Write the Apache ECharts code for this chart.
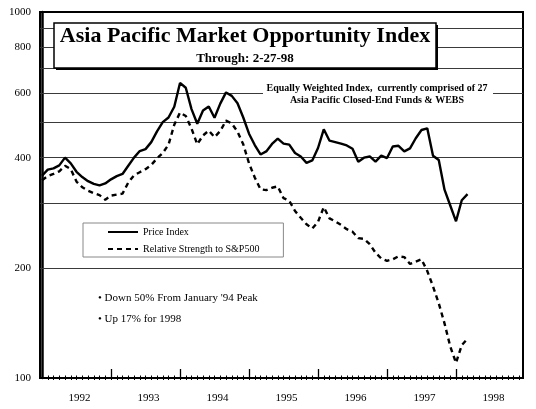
<!DOCTYPE html>
<html>
<head>
<meta charset="utf-8">
<script src="https://cdn.jsdelivr.net/npm/echarts@6/dist/echarts.min.js"></script>
<style>
html,body{margin:0;padding:0;background:#fff;}
#chart{width:536px;height:409px;}
</style>
</head>
<body>
<div id="chart"></div>
<script>
// Month index: 0 = end of Dec 1991, 1 = end of Jan 1992, ... 74 = end of Feb 1998
const monthIndex = [0,1,2,3,4,5,6,7,8,9,10,11,12,13,14,15,16,17,18,19,20,21,22,23,24,25,26,27,28,29,30,31,32,33,34,35,36,37,38,39,40,41,42,43,44,45,46,47,48,49,50,51,52,53,54,55,56,57,58,59,60,61,62,63,64,65,66,67,68,69,70,71,72,73,74];
const priceIndex = [357,371,374,381,400,386,366,354,345,339,336,340,349,356,361,380,400,417,422,441,472,500,515,551,640,621,543,495,538,552,514,562,603,590,563,515,465,433,408,416,436,451,437,434,412,403,387,393,425,478,445,441,437,432,423,390,400,403,390,405,399,429,431,416,424,452,476,481,405,394,327,296,268,306,318];
const relStrength = [347,356,361,367,380,372,344,332,325,320,316,307,315,317,319,342,358,365,372,382,398,412,434,492,531,520,480,435,460,474,455,473,505,496,471,435,386,353,328,326,331,334,310,305,286,274,263,256,267,293,273,268,262,255,251,241,240,232,220,212,209,211,215,214,205,208,211,196,178,160,141,122,110,123,128];

const yearLabels = ['1992','1993','1994','1995','1996','1997','1998'];
const yearLabelPos = [6.5,18.5,30.5,42.5,54.5,66.5,78.5];
const yearTicks = [12,24,36,48,60,72];
const monthTicks = [1,2,3,4,5,6,7,8,9,10,11,12,13,14,15,16,17,18,19,20,21,22,23,24,25,26,27,28,29,30,31,32,33,34,35,36,37,38,39,40,41,42,43,44,45,46,47,48,49,50,51,52,53,54,55,56,57,58,59,60,61,62,63,64,65,66,67,68,69,70,71,72,73,74,75,76,77,78,79,80,81,82,83];
const yGridValues = [200,300,400,500,600,700,800,900];
const yTickLabels = [100,200,400,600,800,1000];

const seriesNames = ['Price Index','Relative Strength to S&P500'];
const titleText = 'Asia Pacific Market Opportunity Index';
const throughText = 'Through: 2-27-98';
const noteLines = ['Equally Weighted Index,  currently comprised of 27','Asia Pacific Closed-End Funds & WEBS'];
const bullets = ["Down 50% From January '94 Peak", 'Up 17% for 1998'];

const SERIF = 'Liberation Serif, Times New Roman, serif';

const markData = [];
const allY = Array.from(new Set(yGridValues.concat(yTickLabels))).sort((a,b)=>a-b);
allY.forEach(v => {
  const isGrid = yGridValues.indexOf(v) >= 0;
  const isLabel = yTickLabels.indexOf(v) >= 0;
  markData.push({
    yAxis: v,
    lineStyle: isGrid ? {color:'#3a3a3a', width:1, type:'solid'} : {color:'rgba(0,0,0,0)', width:0},
    label: {show:isLabel, formatter:String(v)}
  });
});

const chart = echarts.init(document.getElementById('chart'), null, {renderer:'canvas'});
const xMin = -0.35, xMax = 83.65;
const option = {
  animation:false,
  backgroundColor:'#fff',
  grid:{left:40,right:13,top:12,bottom:31,show:true,borderColor:'#000',borderWidth:2,backgroundColor:'transparent'},
  legend:{
    data:seriesNames, orient:'vertical', left:83, top:223,
    padding:[4,24,3,24], itemGap:7, itemWidth:30, itemHeight:10,
    borderColor:'#888', borderWidth:1, backgroundColor:'#fff',
    itemStyle:{opacity:0, color:'rgba(0,0,0,0)', borderWidth:0},
    textStyle:{fontFamily:SERIF,fontSize:10,color:'#000'},
    selectedMode:false
  },
  xAxis:[
    {type:'value',min:xMin,max:xMax,position:'bottom',
     axisLine:{show:true,lineStyle:{color:'#000',width:2}},
     axisTick:{show:true,inside:true,length:9,customValues:yearTicks,lineStyle:{color:'#000',width:1.3}},
     axisLabel:{show:true,customValues:yearLabelPos,margin:15,fontFamily:SERIF,fontSize:11,color:'#000',
       formatter:function(v){return yearLabels[Math.round((v-6.5)/12)];}},
     splitLine:{show:false}},
    {type:'value',min:xMin,max:xMax,position:'bottom',
     axisLine:{show:false},
     axisTick:{show:true,inside:true,length:2.5,customValues:monthTicks,lineStyle:{color:'#000',width:1}},
     axisLabel:{show:false},splitLine:{show:false}},
    {type:'value',min:xMin,max:xMax,position:'bottom',
     axisLine:{show:false},
     axisTick:{show:true,inside:false,length:2,customValues:monthTicks,lineStyle:{color:'#000',width:1}},
     axisLabel:{show:false},splitLine:{show:false}}
  ],
  yAxis:{type:'log',logBase:10,min:100,max:1000,
    axisLine:{show:true,lineStyle:{color:'#000',width:2.5}},
    axisTick:{show:false},axisLabel:{show:false},splitLine:{show:false},minorSplitLine:{show:false}},
  series:[
    {name:seriesNames[0],type:'line',xAxisIndex:0,symbol:'none',
     data:monthIndex.map((m,i)=>[m,priceIndex[i]]),
     lineStyle:{color:'#000',width:2.4,type:'solid'},itemStyle:{color:'#000'},z:5,
     markLine:{silent:true,symbol:['none','none'],animation:false,
       label:{position:'start',distance:9,color:'#000',fontFamily:SERIF,fontSize:11},
       emphasis:{disabled:true},
       data:markData},
    },
    {name:seriesNames[1],type:'line',xAxisIndex:0,symbol:'none',
     data:monthIndex.map((m,i)=>[m,relStrength[i]]),
     lineStyle:{color:'#000',width:2.4,type:[5,4]},itemStyle:{color:'#000'},z:5}
  ],
  graphic:[
    {type:'rect',z:100,shape:{x:56,y:25,width:382,height:45},style:{fill:'#000'}},
    {type:'rect',z:101,shape:{x:54,y:23,width:382,height:45},style:{fill:'#fff',stroke:'#000',lineWidth:1.5}},
    {type:'text',z:102,x:245,y:36,style:{text:titleText,fill:'#000',font:'bold 22px '+SERIF,textAlign:'center',textVerticalAlign:'middle'}},
    {type:'text',z:102,x:245,y:59,style:{text:throughText,fill:'#000',font:'bold 13px '+SERIF,textAlign:'center',textVerticalAlign:'middle'}},
    {type:'rect',z:100,shape:{x:263,y:80,width:230,height:26},style:{fill:'#fff'}},
    {type:'text',z:102,x:377,y:88,style:{text:noteLines[0],fill:'#000',font:'bold 10px '+SERIF,textAlign:'center',textVerticalAlign:'middle'}},
    {type:'text',z:102,x:377,y:100,style:{text:noteLines[1],fill:'#000',font:'bold 10px '+SERIF,textAlign:'center',textVerticalAlign:'middle'}},
    {type:'text',z:102,x:98,y:298,style:{text:'\u2022 '+bullets[0],fill:'#000',font:'11px '+SERIF,textAlign:'left',textVerticalAlign:'middle'}},
    {type:'text',z:102,x:98,y:319,style:{text:'\u2022 '+bullets[1],fill:'#000',font:'11px '+SERIF,textAlign:'left',textVerticalAlign:'middle'}}
  ]
};
chart.setOption(option);
</script>
</body>
</html>
